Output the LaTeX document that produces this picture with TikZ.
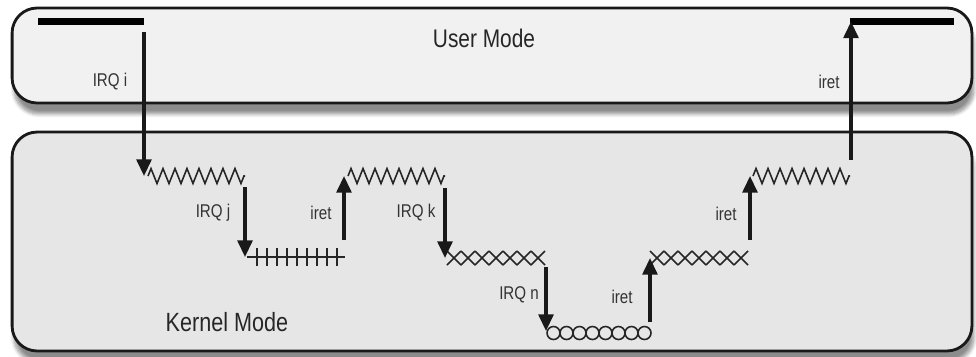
\documentclass[tikz,border=0pt]{standalone}
\usepackage{fontspec}
\setmainfont{Liberation Sans}[FakeStretch=0.82]
\usetikzlibrary{arrows.meta, shadows.blur, decorations.pathmorphing}
\definecolor{userfill}{HTML}{F1F1F1}
\definecolor{kernfill}{HTML}{E6E6E6}
\tikzstyle{mode} = [rectangle, rounded corners=0.5cm, draw=black!90, line width=1.6pt, minimum width=19.2cm, blur shadow={shadow xshift=0.4mm, shadow yshift=-2.2mm, shadow blur steps=8, shadow opacity=45}]
\tikzstyle{title} = [font=\fontsize{14.5}{17}\selectfont, text=black!85]
\tikzstyle{lbl} = [font=\fontsize{10.5}{12}\selectfont, text=black!80]
\tikzstyle{irq} = [-{Triangle[length=9.5pt, width=8.5pt]}, line width=1.8pt, black!90]
\tikzstyle{bar} = [line width=4pt, black]
\tikzstyle{wave} = [line width=0.9pt, black!85]

\begin{document}
\begin{tikzpicture}[x=0.02cm, y=-0.02cm]
      \useasboundingbox (0,0) rectangle (976,356);
      \node (user) [mode, fill=userfill, minimum height=1.9cm] at (492,55.5) {};
      \node (kernel) [mode, fill=kernfill, minimum height=4.38cm] at (492,241.5) {};
      \node (usertxt) [title] at (484,38) {User Mode};
      \node (kerntxt) [title, font=\fontsize{15}{18}\selectfont] at (227,322) {Kernel Mode};

      % user mode bars
      \coordinate (ub1a) at (38,21.5);
      \coordinate (ub1b) at (144,21.5);
      \coordinate (ub2a) at (850,21.5);
      \coordinate (ub2b) at (954,21.5);
      \draw [bar] (ub1a) -- (ub1b);
      \draw [bar] (ub2a) -- (ub2b);

      % kernel segments
      \coordinate (z1a) at (148,176);
      \coordinate (z1b) at (245,176);
      \coordinate (h1a) at (247,257);
      \coordinate (h1b) at (345,257);
      \coordinate (z2a) at (348,176);
      \coordinate (z2b) at (445,176);
      \coordinate (x1a) at (447,258);
      \coordinate (x1b) at (545,258);
      \coordinate (c1a) at (547,333);
      \coordinate (x2a) at (650,258);
      \coordinate (x2b) at (748,258);
      \coordinate (z3a) at (753,176);
      \coordinate (z3b) at (850,176);

      \draw [wave, decorate, decoration={zigzag, segment length=0.24cm, amplitude=0.15cm}] (z1a) -- (z1b);
      \draw [wave, decorate, decoration={zigzag, segment length=0.24cm, amplitude=0.15cm}] (z2a) -- (z2b);
      \draw [wave, decorate, decoration={zigzag, segment length=0.24cm, amplitude=0.15cm}] (z3a) -- (z3b);

      \draw [wave] (h1a) -- (h1b);
      \foreach \i in {0,...,8}
        \draw [wave] ($(h1a)+(10+10*\i,-9)$) -- ++(0,18);

      \foreach \i in {0,...,6} {
        \draw [wave] ($(x1a)+(14*\i,-7)$) -- ++(14,14);
        \draw [wave] ($(x1a)+(14*\i,7)$) -- ++(14,-14);
        \draw [wave] ($(x2a)+(14*\i,-7)$) -- ++(14,14);
        \draw [wave] ($(x2a)+(14*\i,7)$) -- ++(14,-14);
      }

      \foreach \i in {0,...,7}
        \draw [wave] ($(c1a)+(6.5+13*\i,0)$) circle (0.13cm);

      % interrupts and returns
      \coordinate (i0) at (144,32);
      \coordinate (j0) at (245,187);
      \coordinate (r1) at (344,240);
      \coordinate (k0) at (445,188);
      \coordinate (n0) at (546,267);
      \coordinate (r2) at (650,322);
      \coordinate (r3) at (750,240);
      \coordinate (r4) at (851,160);

      \draw [irq] (i0) -- (i0 |- z1a);
      \draw [irq] (j0) -- (j0 |- h1a);
      \draw [irq] (r1) -- (r1 |- z2a);
      \draw [irq] (k0) -- (k0 |- x1a);
      \draw [irq] (n0) -- ($(n0 |- c1a)+(0,-2)$);
      \draw [irq] (r2) -- (r2 |- x2a);
      \draw [irq] (r3) -- (r3 |- z3a);
      \draw [irq] (r4) -- (r4 |- ub2a);

      \node (li) [lbl] at (110,82) {IRQ i};
      \node (lj) [lbl] at (213,213) {IRQ j};
      \node (lr1) [lbl] at (321,213) {iret};
      \node (lk) [lbl] at (416,213) {IRQ k};
      \node (ln) [lbl] at (519,295) {IRQ n};
      \node (lr2) [lbl] at (622,297) {iret};
      \node (lr3) [lbl] at (726,214) {iret};
      \node (lr4) [lbl] at (829,82) {iret};
\end{tikzpicture}
\end{document}
